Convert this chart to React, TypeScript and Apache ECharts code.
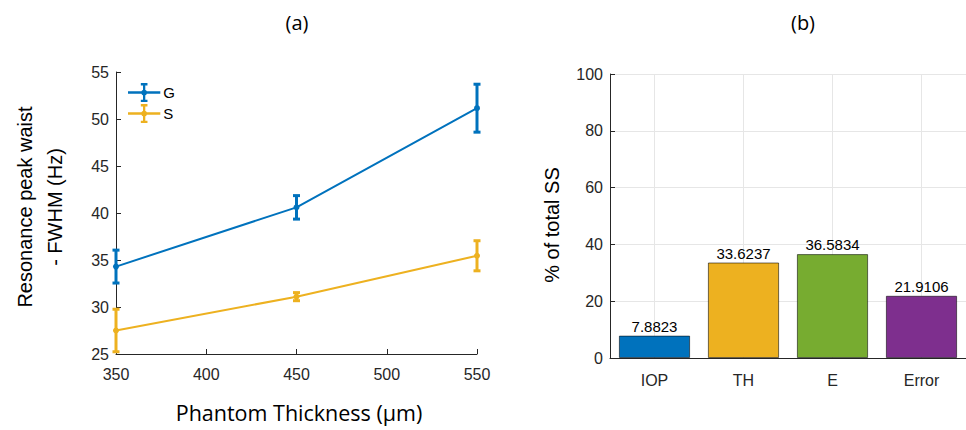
import React, { useEffect, useRef } from "react";
import * as echarts from "echarts";

const thickness = [350, 450, 550];
const gMean = [34.3, 40.6, 51.15];
const gErr = [1.75, 1.25, 2.55];
const sMean = [27.5, 31.1, 35.45];
const sErr = [2.26, 0.43, 1.6];

const factors = ["IOP", "TH", "E", "Error"];
const ssPercent = [7.8823, 33.6237, 36.5834, 21.9106];
const barColors = ["#0072BD", "#EDB120", "#77AC30", "#7E2F8E"];

const leftYTicks = { min: 25, max: 55, interval: 5 };
const leftXTicks = { min: 350, max: 550, interval: 50 };
const rightYTicks = { min: 0, max: 100, interval: 20 };

const BLUE = "#0072BD";
const YELLOW = "#EDB120";
const AXIS = "#262626";
const SANS = "'Liberation Sans', Arial, sans-serif";
const TITLE_FONT = "'Open Sans', sans-serif";

const legendIcon =
  "path://M0 8.8H34V11.2H0Z M15.8 1H18.2V19H15.8Z M13.5 0H20.5V2.5H13.5Z M13.5 17.5H20.5V20H13.5Z M14 10A3 3 0 1 1 20 10A3 3 0 1 1 14 10Z";

function errorSeries(name: string, means: number[], errs: number[], color: string) {
  return {
    type: "custom",
    name: name + "_err",
    xAxisIndex: 0,
    yAxisIndex: 0,
    silent: true,
    z: 3,
    data: thickness.map((x, i) => [x, means[i], errs[i]]),
    renderItem: (params: any, api: any) => {
      const x = api.value(0);
      const m = api.value(1);
      const e = api.value(2);
      const top = api.coord([x, m + e]);
      const bot = api.coord([x, m - e]);
      const hw = 3.5;
      const st = { stroke: color, lineWidth: 3 };
      return {
        type: "group",
        children: [
          { type: "line", shape: { x1: top[0], y1: top[1], x2: bot[0], y2: bot[1] }, style: st },
          { type: "line", shape: { x1: top[0] - hw, y1: top[1], x2: top[0] + hw, y2: top[1] }, style: st },
          { type: "line", shape: { x1: bot[0] - hw, y1: bot[1], x2: bot[0] + hw, y2: bot[1] }, style: st },
        ],
      };
    },
  };
}

export default function App() {
  const ref = useRef<HTMLDivElement>(null);
  useEffect(() => {
    if (!ref.current) return;
    const chart = echarts.init(ref.current, null, { renderer: "svg" });
    const axisLine = { show: true, lineStyle: { color: AXIS, width: 1 } };
    const axisTick = { show: true, inside: true, length: 5, lineStyle: { color: AXIS } };
    const axisLabel = { color: AXIS, fontSize: 16, fontFamily: SANS };
    chart.setOption({
      animation: false,
      backgroundColor: "#ffffff",
      grid: [
        { left: 116, right: 489, top: 72, bottom: 76, containLabel: false },
        { left: 610, right: -4, top: 74, bottom: 72, containLabel: false },
      ],
      legend: {
        data: [
          { name: "G", icon: legendIcon, itemStyle: { color: BLUE } },
          { name: "S", icon: legendIcon, itemStyle: { color: YELLOW } },
        ],
        orient: "vertical",
        left: 128,
        top: 83,
        itemWidth: 34,
        itemHeight: 19,
        itemGap: 2,
        padding: 0,
        textStyle: { color: "#000", fontSize: 15, fontFamily: SANS, padding: [0, 0, 0, -3] },
      },
      xAxis: [
        {
          type: "value",
          gridIndex: 0,
          min: leftXTicks.min,
          max: leftXTicks.max,
          interval: leftXTicks.interval,
          axisLine,
          axisTick,
          axisLabel: { ...axisLabel, margin: 12 },
          splitLine: { show: false },
        },
        {
          type: "category",
          gridIndex: 1,
          data: factors,
          axisLine,
          axisTick: { show: false },
          axisLabel: { ...axisLabel, margin: 14 },
          splitLine: { show: true, alignWithLabel: true, lineStyle: { color: "#e6e6e6", width: 1 } },
        },
      ],
      yAxis: [
        {
          type: "value",
          gridIndex: 0,
          min: leftYTicks.min,
          max: leftYTicks.max,
          interval: leftYTicks.interval,
          axisLine,
          axisTick,
          axisLabel: { ...axisLabel, margin: 7 },
          splitLine: { show: false },
        },
        {
          type: "value",
          gridIndex: 1,
          min: rightYTicks.min,
          max: rightYTicks.max,
          interval: rightYTicks.interval,
          axisLine,
          axisTick,
          axisLabel: { ...axisLabel, margin: 7 },
          splitLine: { show: true, lineStyle: { color: "#e6e6e6", width: 1 } },
        },
      ],
      series: [
        {
          type: "line",
          name: "G",
          xAxisIndex: 0,
          yAxisIndex: 0,
          data: thickness.map((x, i) => [x, gMean[i]]),
          symbol: "circle",
          symbolSize: 6,
          lineStyle: { color: BLUE, width: 2 },
          itemStyle: { color: BLUE },
          z: 4,
        },
        {
          type: "line",
          name: "S",
          xAxisIndex: 0,
          yAxisIndex: 0,
          data: thickness.map((x, i) => [x, sMean[i]]),
          symbol: "circle",
          symbolSize: 6,
          lineStyle: { color: YELLOW, width: 2 },
          itemStyle: { color: YELLOW },
          z: 4,
        },
        errorSeries("G", gMean, gErr, BLUE),
        errorSeries("S", sMean, sErr, YELLOW),
        {
          type: "bar",
          name: "SS",
          xAxisIndex: 1,
          yAxisIndex: 1,
          barWidth: "80%",
          data: ssPercent.map((v, i) => ({
            value: v,
            itemStyle: { color: barColors[i], borderColor: "rgba(0,0,0,0.55)", borderWidth: 1 },
          })),
          label: {
            show: true,
            position: "top",
            distance: 2,
            color: "#000",
            fontSize: 15,
            fontFamily: SANS,
            formatter: (p: any) => String(p.value),
          },
        },
      ],
      graphic: [
        {
          type: "text",
          x: 297,
          y: 22,
          style: { text: "(a)", fontSize: 20, fontFamily: TITLE_FONT, fill: "#000", textAlign: "center", textVerticalAlign: "middle" },
        },
        {
          type: "text",
          x: 803,
          y: 22,
          style: { text: "(b)", fontSize: 20, fontFamily: TITLE_FONT, fill: "#000", textAlign: "center", textVerticalAlign: "middle" },
        },
        {
          type: "text",
          x: 299,
          y: 412,
          style: { text: "Phantom Thickness (µm)", fontSize: 21.5, fontFamily: TITLE_FONT, fill: "#000", textAlign: "center", textVerticalAlign: "middle" },
        },
        {
          type: "text",
          x: 25,
          y: 207,
          rotation: Math.PI / 2,
          style: { text: "Resonance peak waist", fontSize: 20, fontFamily: SANS, fill: "#000", textAlign: "center", textVerticalAlign: "middle" },
        },
        {
          type: "text",
          x: 55,
          y: 207,
          rotation: Math.PI / 2,
          style: { text: "- FWHM (Hz)", fontSize: 20, fontFamily: SANS, fill: "#000", textAlign: "center", textVerticalAlign: "middle" },
        },
        {
          type: "text",
          x: 552,
          y: 225,
          rotation: Math.PI / 2,
          style: { text: "% of total SS", fontSize: 20, fontFamily: SANS, fill: "#000", textAlign: "center", textVerticalAlign: "middle" },
        },
      ],
    });
    return () => chart.dispose();
  }, []);
  return (
    <div
      ref={ref}
      style={{ position: "fixed", left: 0, top: 0, width: 966, height: 430, background: "#fff" }}
    />
  );
}
